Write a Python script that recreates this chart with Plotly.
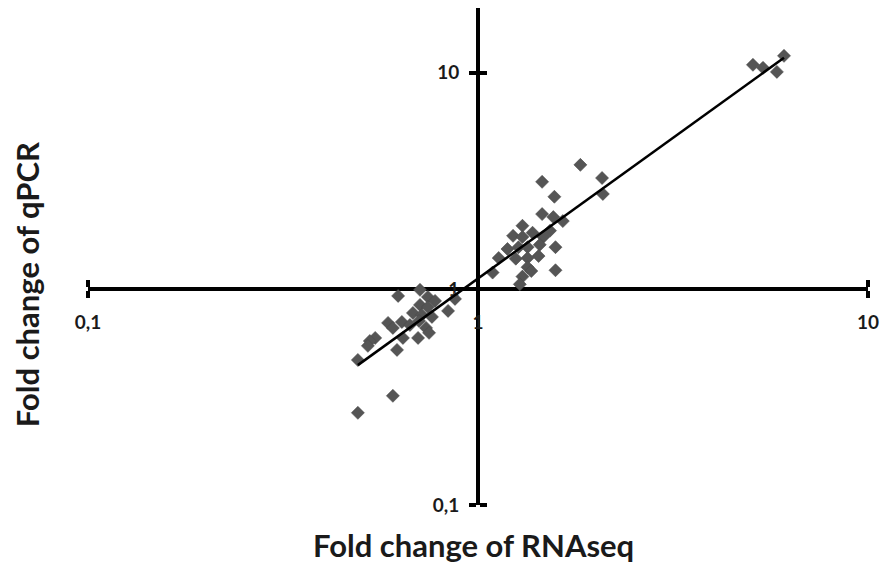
import numpy as np
import plotly.graph_objects as go

# Fold change values (RNAseq on x, qPCR on y)
rnaseq_fc = [
    5.07, 5.38, 5.84, 6.09,
    1.83, 2.08, 2.09, 1.46, 1.57, 1.46, 1.56, 1.65, 1.30, 1.23, 1.30, 1.38,
    1.47, 1.53, 1.19, 1.27, 1.34, 1.44, 1.58, 1.13, 1.25, 1.34, 1.43, 1.09,
    1.34, 1.37, 1.58, 1.30, 1.28,
    0.624, 0.710, 0.744, 0.776, 0.710, 0.744, 0.873, 0.838, 0.681, 0.718,
    0.762, 0.638, 0.588, 0.605, 0.669, 0.706, 0.736, 0.749, 0.545, 0.528,
    0.522, 0.642, 0.702, 0.620, 0.492, 0.605, 0.492,
]
qpcr_fc = [
    10.89, 10.55, 10.10, 11.98,
    3.75, 3.26, 2.75, 3.13, 2.67, 2.22, 2.15, 2.06, 1.96, 1.76, 1.74, 1.82,
    1.74, 1.86, 1.53, 1.56, 1.56, 1.60, 1.56, 1.39, 1.38, 1.39, 1.42, 1.19,
    1.26, 1.21, 1.22, 1.14, 1.05,
    0.928, 0.990, 0.918, 0.880, 0.843, 0.825, 0.899, 0.791, 0.774, 0.758,
    0.742, 0.703, 0.696, 0.660, 0.681, 0.711, 0.660, 0.626, 0.593, 0.574,
    0.545, 0.593, 0.593, 0.522, 0.469, 0.320, 0.267,
]

tick_vals = [0.1, 1, 10]
tick_text = ["0,1", "1", "10"]

X_RANGE = [-1, 1]      # log10
Y_RANGE = [-1, 1.30]   # log10

# power trendline (linear fit in log-log space)
lx, ly = np.log10(rnaseq_fc), np.log10(qpcr_fc)
slope, intercept = np.polyfit(lx, ly, 1)
fit_x = np.array([min(rnaseq_fc), max(rnaseq_fc)])
fit_y = 10 ** (intercept + slope * np.log10(fit_x))

fig = go.Figure()

fig.add_trace(go.Scatter(
    x=rnaseq_fc, y=qpcr_fc, mode="markers",
    marker=dict(symbol="diamond", size=10, color="#555555",
                line=dict(width=0.6, color="#4a4a4a")),
    showlegend=False,
))

fig.add_trace(go.Scatter(
    x=fit_x, y=fit_y, mode="lines",
    line=dict(color="black", width=2.5),
    showlegend=False,
))

axis_common = dict(
    type="log",
    tickmode="array", tickvals=tick_vals, ticktext=tick_text,
    ticks="outside", ticklen=7, tickwidth=4, tickcolor="black",
    minor=dict(ticks="inside", tickmode="array", tickvals=tick_vals,
               ticklen=7, tickwidth=4, tickcolor="black"),
    showline=True, linewidth=4, linecolor="black",
    showgrid=False, zeroline=False, automargin=False,
    tickfont=dict(family="Lato", size=19, color="#1a1a1a", weight="bold"),
    anchor="free", layer="below traces",
)

# x axis crosses y at 1, y axis crosses x at 1
x_pos = (0 - Y_RANGE[0]) / (Y_RANGE[1] - Y_RANGE[0])
y_pos = (0 - X_RANGE[0]) / (X_RANGE[1] - X_RANGE[0])

fig.update_layout(
    xaxis=dict(axis_common, range=X_RANGE, position=x_pos, ticklabelstandoff=8),
    yaxis=dict(axis_common, range=Y_RANGE, position=y_pos, ticklabelstandoff=6),
    width=882, height=564,
    margin=dict(l=88, r=14, t=8, b=59),
    paper_bgcolor="white", plot_bgcolor="white",
    annotations=[
        dict(text="<b>Fold change of RNAseq</b>", xref="paper", yref="paper",
             x=0.4936, y=-0.0805, xanchor="center", yanchor="middle",
             showarrow=False, font=dict(family="Lato", size=31, color="#1a1a1a")),
        dict(text="<b>Fold change of qPCR</b>", xref="paper", yref="paper",
             x=-0.078, y=0.4427, xanchor="center", yanchor="middle", textangle=-90,
             showarrow=False, font=dict(family="Lato", size=31, color="#1a1a1a")),
    ],
)

# drop the default body margin (and scrollbars) so the figure fills the window
fig.write_html(
    "out.html",
    config={"displayModeBar": False},
    post_script="document.body.style.margin = '0'; document.body.style.overflow = 'hidden';",
)
